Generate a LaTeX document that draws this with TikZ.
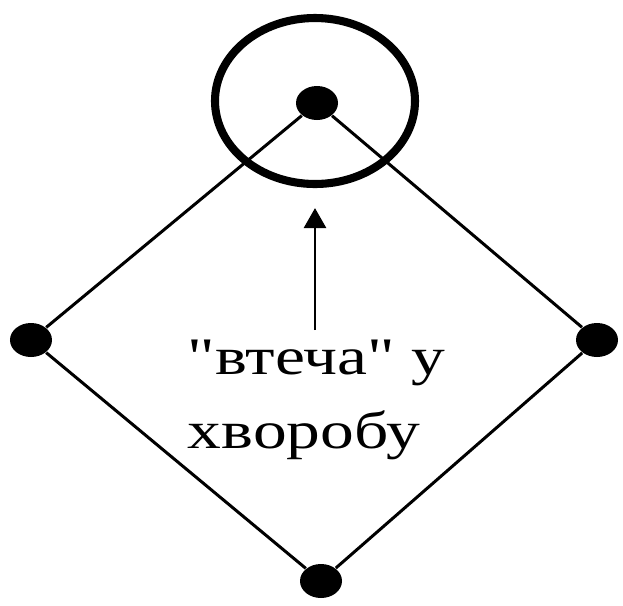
\documentclass[tikz,border=0pt]{standalone}
\usepackage{fontspec}
\setmainfont{Liberation Serif}[Ligatures=TeXReset]
\usepackage{tikz}
\usetikzlibrary{
	arrows.meta,
	shapes.geometric
}
\tikzset{
	dot/.style={ellipse, fill=black, inner sep=0pt, minimum width=0.42cm, minimum height=0.34cm}
}

\begin{document}
\begin{tikzpicture}
			\useasboundingbox (0,0) rectangle (6.23,6.05);
			\node[dot] (top) at (3.17,5.02) {};
			\node[dot] (left) at (0.31,2.65) {};
			\node[dot] (right) at (5.97,2.65) {};
			\node[dot] (bottom) at (3.21,0.24) {};
			\draw[line width=0.85pt] (top) -- (left) -- (bottom) -- (right) -- (top);
			\node[ellipse, draw, line width=2.3pt, minimum width=2.0cm, minimum height=1.66cm] (ring) at (3.15,5.04) {};
			\node[anchor=base west, align=left, xscale=1.28, font=\fontsize{15}{21}\selectfont] (label) at (1.72,1.57) {"втеча" у\\хворобу};
			\coordinate (tail) at (3.15,2.75);
			\draw[line width=0.8pt, -{Triangle[length=0.2cm, width=0.22cm]}, shorten >=0.2cm] (tail) -- (tail |- ring.south);
		\end{tikzpicture}
\end{document}
